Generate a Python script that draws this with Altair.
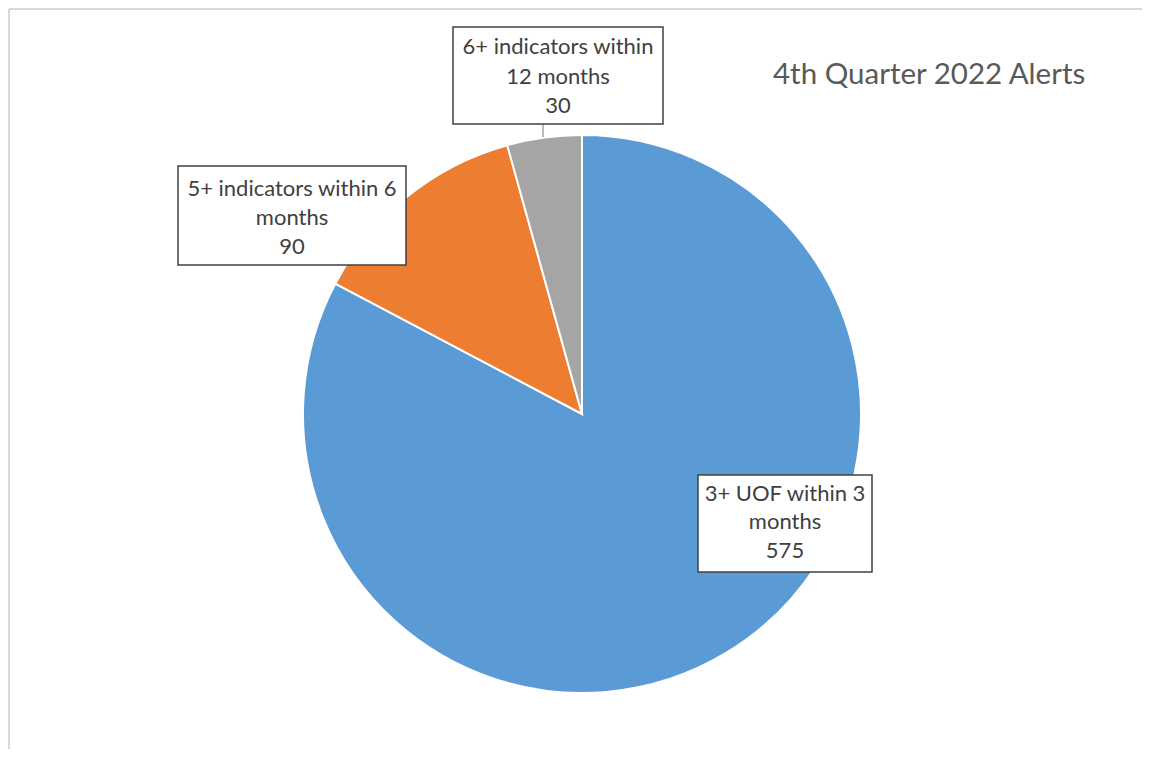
import altair as alt
import pandas as pd

# Data
categories = ["3+ UOF within 3 months", "5+ indicators within 6 months", "6+ indicators within 12 months"]
values = [575, 90, 30]
colors = ["#5B9BD5", "#ED7D31", "#A5A5A5"]
label_lines = [["3+ UOF within 3", "months"], ["5+ indicators within 6", "months"], ["6+ indicators within", "12 months"]]
title_text = "4th Quarter 2022 Alerts"

W, H = 1133, 740
FONT = "Lato"

pie_df = pd.DataFrame({"category": categories, "value": values, "idx": list(range(len(values)))})

# Label box placement (pixel positions of the annotation boxes)
box_df = pd.DataFrame({
    "x0": [689, 169, 444], "x1": [863, 397, 654],
    "y0": [466, 157, 18], "y1": [563, 256, 115],
})
text_pos = {0: (776, [484.5, 512.5, 541.5]), 1: (283, [180, 209, 238]), 2: (549, [38, 68, 97])}
rows = []
for i, (cx, ys) in text_pos.items():
    lines = label_lines[i] + [str(values[i])]
    for line, yy in zip(lines, ys):
        rows.append({"tx": cx, "ty": yy, "t": line})
text_df = pd.DataFrame(rows)

frame_top = alt.Chart(pd.DataFrame({"a": [0]})).mark_rule(color="#D9D9D9", strokeWidth=2).encode(
    x=alt.value(0), x2=alt.value(W), y=alt.value(0)
)
frame_left = alt.Chart(pd.DataFrame({"a": [0]})).mark_rule(color="#D9D9D9", strokeWidth=2).encode(
    x=alt.value(0), y=alt.value(0), y2=alt.value(H)
)

pie = alt.Chart(pie_df).mark_arc(radius=279, stroke="white", strokeWidth=2).encode(
    theta=alt.Theta("value:Q", stack=True),
    color=alt.Color("category:N", scale=alt.Scale(domain=categories, range=colors), legend=None),
    order=alt.Order("idx:Q"),
    x=alt.value(573), y=alt.value(405),
)

leader = alt.Chart(pd.DataFrame({"a": [0]})).mark_rule(color="#A6A6A6", strokeWidth=1.5).encode(
    x=alt.value(534), y=alt.value(115), y2=alt.value(128)
)

boxes = alt.Chart(box_df).mark_rect(fill="white", stroke="#404040", strokeWidth=1.5).encode(
    x=alt.X("x0:Q", scale=None), x2="x1:Q",
    y=alt.Y("y0:Q", scale=None), y2="y1:Q",
)

texts = alt.Chart(text_df).mark_text(font=FONT, fontSize=22, color="#404040", align="center", baseline="middle").encode(
    x=alt.X("tx:Q", scale=None), y=alt.Y("ty:Q", scale=None), text="t:N"
)

title = alt.Chart(pd.DataFrame({"t": [title_text]})).mark_text(
    font=FONT, fontSize=29.5, color="#595959", align="left", baseline="middle"
).encode(x=alt.value(764), y=alt.value(65.5), text="t:N")

chart = alt.layer(frame_top, frame_left, pie, leader, boxes, texts, title).properties(
    width=W, height=H, padding=0, view=alt.ViewBackground(strokeWidth=0, stroke="transparent")
).configure_view(strokeWidth=0, stroke="transparent").configure(background="white")

chart.save("out.html", embed_options={"renderer": "svg", "actions": False})
